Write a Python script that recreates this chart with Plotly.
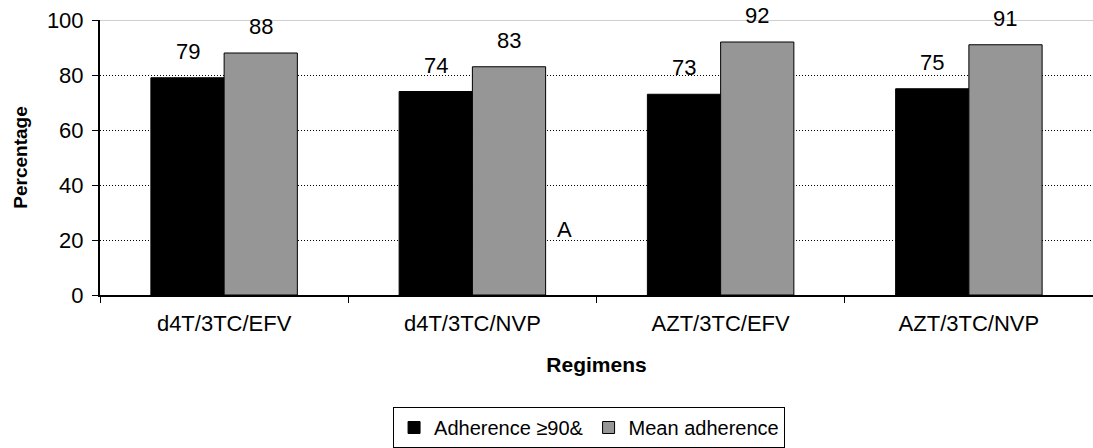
import plotly.graph_objects as go

categories = ["d4T/3TC/EFV", "d4T/3TC/NVP", "AZT/3TC/EFV", "AZT/3TC/NVP"]
adherence90 = [79, 74, 73, 75]
mean_adherence = [88, 83, 92, 91]
series_names = ["Adherence \u226590&", "Mean adherence"]
y_ticks = [0, 20, 40, 60, 80, 100]

FONT = "Liberation Sans, Arial, sans-serif"
FS = 22

fig = go.Figure()
fig.add_trace(go.Bar(
    x=categories, y=adherence90, name=series_names[0],
    marker=dict(color="#000000", line=dict(color="#000000", width=1)),
))
fig.add_trace(go.Bar(
    x=categories, y=mean_adherence, name=series_names[1],
    marker=dict(color="#969696", line=dict(color="#000000", width=1)),
))

BARGAP = 0.41
# value labels placed above each bar
for series, sign in ((adherence90, -1), (mean_adherence, 1)):
    for i, v in enumerate(series):
        fig.add_annotation(x=i + sign * (1 - BARGAP) / 4, y=v, xref="x", yref="y",
                           text=str(v), showarrow=False, yanchor="bottom", yshift=12,
                           font=dict(size=FS, color="#000000", family=FONT))

# top gridline (gray, solid)
fig.add_shape(type="line", xref="paper", yref="y", x0=0, x1=1, y0=100, y1=100,
              line=dict(color="#a0a0a0", width=1), layer="below")

fig.add_annotation(x=1.37, y=20, xref="x", yref="y", text="A", showarrow=False,
                   yanchor="bottom", yshift=-4, font=dict(size=FS, color="#000000", family=FONT))

fig.update_layout(
    width=1093, height=448,
    margin=dict(l=100, r=0, t=20, b=152),
    paper_bgcolor="white", plot_bgcolor="white",
    font=dict(family=FONT, color="#000000", size=FS),
    barmode="group", bargap=BARGAP, bargroupgap=0,
    showlegend=True,
    legend=dict(orientation="h", x=0.4925, xanchor="center", y=-0.405, yanchor="top",
                bordercolor="#000000", borderwidth=1, font=dict(size=20, family=FONT),
                tracegroupgap=0, itemwidth=30),
    xaxis=dict(
        title=dict(text="<b>Regimens</b>", font=dict(size=21, family=FONT), standoff=22),
        showline=True, linecolor="#000000", linewidth=2,
        ticks="outside", tickson="boundaries", ticklen=6, tickcolor="#000000",
        showgrid=False, tickfont=dict(size=FS, family=FONT), ticklabelstandoff=8,
        range=[-0.5, 3.5],
    ),
    yaxis=dict(
        title=dict(text="<b>Percentage</b>", font=dict(size=19, family=FONT), standoff=14),
        range=[0, 100], tickvals=y_ticks,
        showline=True, linecolor="#000000", linewidth=2,
        ticks="outside", ticklen=6, tickcolor="#000000", ticklabelstandoff=4,
        showgrid=True, gridcolor="#000000", griddash="1px,2px", gridwidth=1,
        zeroline=False, tickfont=dict(size=FS, family=FONT),
    ),
)

fig.write_html("out.html")
